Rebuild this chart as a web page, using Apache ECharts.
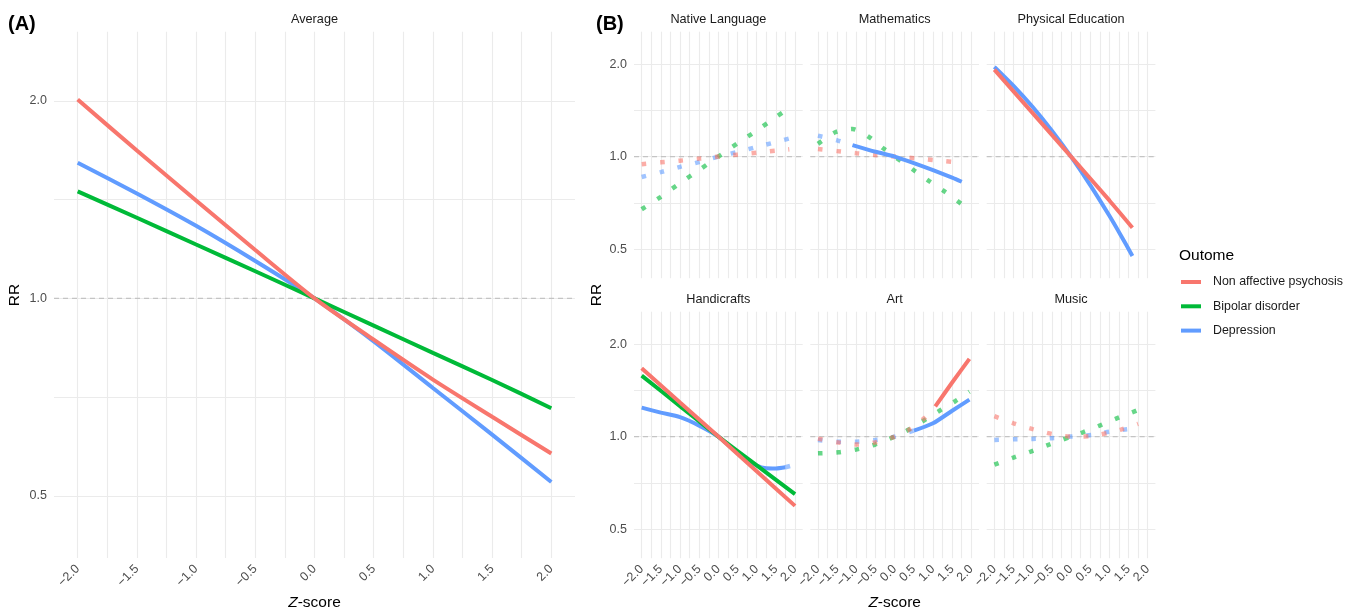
<!DOCTYPE html>
<html>
<head>
<meta charset="utf-8">
<script src="https://cdn.jsdelivr.net/npm/echarts@6/dist/echarts.min.js"></script>
<style>
  html, body { margin: 0; padding: 0; background: #ffffff; }
  #chart { width: 1355px; height: 613px; }
</style>
</head>
<body>
<div id="chart"></div>
<script>
// ---------------- data ----------------
const OUTCOMES = ['Non affective psychosis', 'Bipolar disorder', 'Depression'];
const LEGEND_TITLE = 'Outome';
const X_TICKS = [-2, -1.5, -1, -0.5, 0, 0.5, 1, 1.5, 2];
const X_GRID = [-2, -1.75, -1.5, -1.25, -1, -0.75, -0.5, -0.25, 0, 0.25, 0.5, 0.75, 1, 1.25, 1.5, 1.75, 2];
const X_RANGE = [-2.2, 2.2];
const Y_TICKS = [0.5, 1, 2];
const Y_GRID = [0.5, 0.7071, 1, 1.4142, 2];
const Y_RANGE = [0.402, 2.55];
const REF_RR = 1;

// Panel A: Average
const Z = [-2, -1.5, -1, -0.5, 0, 0.5, 1, 1.5, 2];
const AVG_NAP = [2.01, 1.68, 1.41, 1.185, 1.0, 0.865, 0.752, 0.66, 0.58];
const AVG_BIP = [1.456, 1.327, 1.208, 1.1, 1.0, 0.909, 0.826, 0.751, 0.68];
const AVG_DEP = [1.61, 1.445, 1.29, 1.14, 1.0, 0.86, 0.73, 0.62, 0.525];

// Panel B facets ([z, RR]); SOL = significant (solid), DOT = non-significant (dotted)
const FACET_TITLES = ['Native Language', 'Mathematics', 'Physical Education', 'Handicrafts', 'Art', 'Music'];

const NL_NAP_DOT = [[-2,0.945],[-1.5,0.958],[-1,0.97],[-0.5,0.985],[0,1],[0.5,1.015],[1,1.03],[1.5,1.045],[1.85,1.056]];
const NL_BIP_DOT = [[-2,0.674],[-1.5,0.74],[-1,0.82],[-0.5,0.905],[0,1],[0.5,1.105],[1,1.215],[1.5,1.345],[1.85,1.44]];
const NL_DEP_DOT = [[-2,0.858],[-1.5,0.89],[-1,0.926],[-0.5,0.96],[0,1],[0.5,1.035],[1,1.075],[1.5,1.115],[1.85,1.145]];

const MA_NAP_DOT = [[-2,1.058],[-1.5,1.042],[-1,1.026],[-0.5,1.012],[0,1],[0.5,0.988],[1,0.975],[1.5,0.962],[1.75,0.955]];
const MA_BIP_DOT = [[-2,1.10],[-1.55,1.2],[-1.1,1.23],[-0.66,1.156],[-0.28,1.06],[0,1],[0.5,0.903],[0.89,0.834],[1.29,0.772],[1.75,0.70]];
const MA_DEP_DOT = [[-2,1.17],[-1.5,1.13],[-1.1,1.09]];
const MA_DEP_SOL = [[-1.1,1.09],[-0.5,1.037],[0,1],[0.5,0.953],[1,0.904],[1.5,0.854],[1.75,0.828]];

const PE_NAP_SOL = [[-2,1.92],[-1,1.385],[0,1],[1,0.72],[1.6,0.587]];
const PE_DEP_SOL = [[-2,1.96],[-1.5,1.70],[-1,1.45],[-0.5,1.215],[0,1],[0.5,0.808],[1,0.642],[1.3,0.554],[1.6,0.475]];

const HC_NAP_SOL = [[-2,1.67],[-1,1.292],[0,1],[1,0.771],[2,0.595]];
const HC_BIP_SOL = [[-2,1.58],[-1,1.257],[0,1],[1,0.806],[2,0.65]];
const HC_DEP_SOL = [[-2,1.243],[-1.5,1.197],[-1,1.157],[-0.5,1.086],[0,1],[0.5,0.883],[1,0.805],[1.25,0.789],[1.5,0.788],[1.75,0.795]];
const HC_DEP_DOT = [[1.75,0.795],[2,0.81]];

const AR_NAP_DOT = [[-2,0.985],[-1.5,0.958],[-1,0.942],[-0.5,0.958],[0,1],[0.38,1.054],[0.77,1.147],[1.06,1.254]];
const AR_NAP_SOL = [[1.06,1.254],[1.5,1.5],[1.95,1.79]];
const AR_BIP_DOT = [[-2,0.882],[-1.46,0.889],[-0.98,0.909],[-0.51,0.942],[0,1],[0.38,1.056],[0.77,1.13],[1.17,1.214],[1.59,1.306],[1.95,1.4]];
const AR_DEP_DOT = [[-2,0.975],[-1.5,0.963],[-1,0.963],[-0.5,0.975],[0,1],[0.5,1.046]];
const AR_DEP_SOL = [[0.5,1.046],[1,1.105],[1.5,1.214],[1.95,1.32]];

const MU_NAP_DOT = [[-2,1.165],[-1.5,1.105],[-1,1.058],[-0.5,1.02],[0,1],[0.5,1.003],[1,1.03],[1.3,1.054],[1.75,1.1]];
const MU_BIP_DOT = [[-2,0.81],[-1.5,0.855],[-1.05,0.894],[-0.59,0.94],[0,1],[0.31,1.033],[0.76,1.088],[1.19,1.146],[1.64,1.206],[1.75,1.222]];
const MU_DEP_DOT = [[-2,0.975],[-1.5,0.98],[-1,0.983],[-0.5,0.988],[0,1],[0.6,1.015],[1,1.038],[1.41,1.054],[1.75,1.065]];

// ---------------- styling / layout ----------------
const COLORS = ['#F8766D', '#00BA38', '#619CFF'];
const FONT = "'Liberation Sans', Arial, Helvetica, sans-serif";
const GRID_COLOR = '#EBEBEB';
const TICK_FS = 12.5, STRIP_FS = 12.7, TITLE_FS = 15.5, LEG_FS = 12.4;

// facet composition: [outcomeIndex, data, dotted]
const FACETS = [
  [[2, NL_DEP_DOT, true], [1, NL_BIP_DOT, true], [0, NL_NAP_DOT, true]],
  [[2, MA_DEP_DOT, true], [1, MA_BIP_DOT, true], [0, MA_NAP_DOT, true], [2, MA_DEP_SOL, false]],
  [[2, PE_DEP_SOL, false], [0, PE_NAP_SOL, false]],
  [[2, HC_DEP_SOL, false], [2, HC_DEP_DOT, true], [1, HC_BIP_SOL, false], [0, HC_NAP_SOL, false]],
  [[2, AR_DEP_DOT, true], [1, AR_BIP_DOT, true], [0, AR_NAP_DOT, true], [2, AR_DEP_SOL, false], [0, AR_NAP_SOL, false]],
  [[2, MU_DEP_DOT, true], [1, MU_BIP_DOT, true], [0, MU_NAP_DOT, true]]
];

const B_LEFTS = [634, 810.3, 986.7];
const B_TOPS = [31.7, 311.7];
const B_W = 168.7, B_H = 246.5;
const A_GRID = { left: 54, top: 31.7, width: 521, height: 526.3 };

function fmtX(v) {
  const s = Math.abs(v).toFixed(1);
  return (v < -1e-9 ? '\u2212' : '') + s;
}
function fmtY(v) {
  return Math.pow(2, v).toFixed(1);
}

const grids = [A_GRID];
for (let r = 0; r < 2; r++) {
  for (let c = 0; c < 3; c++) {
    grids.push({ left: B_LEFTS[c], top: B_TOPS[r], width: B_W, height: B_H });
  }
}

const xAxes = [], yAxes = [];
grids.forEach((g, i) => {
  const showX = (i === 0) || (i >= 4);
  const showY = (i === 0) || (i === 1) || (i === 4);
  xAxes.push({
    type: 'value', gridIndex: i, min: X_RANGE[0], max: X_RANGE[1],
    axisLine: { show: false },
    axisTick: { show: false, customValues: X_GRID },
    axisLabel: {
      show: showX, customValues: X_TICKS, rotate: 45, margin: 9,
      color: '#4D4D4D', fontSize: TICK_FS, fontFamily: FONT, formatter: fmtX
    },
    splitLine: { show: true, lineStyle: { color: GRID_COLOR, width: 1.1 } }
  });
  yAxes.push({
    type: 'value', gridIndex: i, min: Math.log2(Y_RANGE[0]), max: Math.log2(Y_RANGE[1]),
    axisLine: { show: false },
    axisTick: { show: false, customValues: Y_GRID.map(Math.log2) },
    axisLabel: {
      show: showY, customValues: Y_TICKS.map(Math.log2), margin: 7,
      color: '#4D4D4D', fontSize: TICK_FS, fontFamily: FONT, formatter: fmtY
    },
    splitLine: { show: true, lineStyle: { color: GRID_COLOR, width: 1.1 } }
  });
});

function toLog(pts) { return pts.map(p => [p[0], Math.log2(p[1])]); }

function lineSeries(gi, oi, pts, dotted) {
  return {
    type: 'line', name: OUTCOMES[oi], xAxisIndex: gi, yAxisIndex: gi,
    data: toLog(pts), symbol: 'none', showSymbol: false,
    smooth: 0.25,
    silent: true, z: dotted ? 2 : 3,
    itemStyle: { color: COLORS[oi] },
    lineStyle: {
      color: COLORS[oi], width: dotted ? 4.5 : 4, cap: 'butt',
      type: dotted ? [4.8, 13.6] : 'solid', opacity: dotted ? 0.6 : 1
    }
  };
}
function refSeries(gi) {
  return {
    type: 'line', xAxisIndex: gi, yAxisIndex: gi, silent: true, z: 1,
    data: [[X_RANGE[0], Math.log2(REF_RR)], [X_RANGE[1], Math.log2(REF_RR)]],
    symbol: 'none', showSymbol: false,
    lineStyle: { color: '#C4C4C4', width: 1.2, type: [5, 4] }
  };
}

const series = [];
// Panel A
series.push(refSeries(0));
[[2, AVG_DEP], [1, AVG_BIP], [0, AVG_NAP]].forEach(([oi, vals]) => {
  series.push(lineSeries(0, oi, Z.map((z, k) => [z, vals[k]]), false));
});
// Panel B
FACETS.forEach((f, fi) => {
  const gi = fi + 1;
  series.push(refSeries(gi));
  f.forEach(([oi, pts, dotted]) => series.push(lineSeries(gi, oi, pts, dotted)));
});

function txt(x, y, text, opts) {
  opts = opts || {};
  return {
    type: 'text', x: x, y: y, rotation: opts.rotation || 0, silent: true,
    style: Object.assign({
      text: text, fill: opts.fill || '#1A1A1A',
      fontSize: opts.fontSize || STRIP_FS, fontFamily: FONT, fontWeight: opts.fontWeight || 'normal',
      align: opts.align || 'center', verticalAlign: 'middle',
      textAlign: opts.align || 'center', textVerticalAlign: 'middle'
    }, opts.extra || {})
  };
}

const italicZ = { rich: { i: { fontStyle: 'italic', fontSize: TITLE_FS, fontFamily: FONT, fill: '#000' } } };

const graphics = [
  txt(8, 24, '(A)', { fontSize: 20, fontWeight: 'bold', fill: '#000', align: 'left' }),
  txt(596, 24, '(B)', { fontSize: 20, fontWeight: 'bold', fill: '#000', align: 'left' }),
  txt(A_GRID.left + A_GRID.width / 2, 19.5, 'Average'),
  txt(15, 295, 'RR', { fontSize: TITLE_FS, fill: '#000', rotation: Math.PI / 2 }),
  txt(597, 295, 'RR', { fontSize: TITLE_FS, fill: '#000', rotation: Math.PI / 2 }),
  txt(A_GRID.left + A_GRID.width / 2, 603, '{i|Z}-score', { fontSize: TITLE_FS, fill: '#000', extra: italicZ }),
  txt(B_LEFTS[1] + B_W / 2, 603, '{i|Z}-score', { fontSize: TITLE_FS, fill: '#000', extra: italicZ }),
  txt(1179, 255.5, LEGEND_TITLE, { fontSize: TITLE_FS, fill: '#000', align: 'left' })
];
FACET_TITLES.forEach((t, k) => {
  const r = Math.floor(k / 3), c = k % 3;
  graphics.push(txt(B_LEFTS[c] + B_W / 2, B_TOPS[r] - 12, t));
});

const option = {
  animation: false,
  backgroundColor: '#ffffff',
  grid: grids,
  xAxis: xAxes,
  yAxis: yAxes,
  legend: {
    data: OUTCOMES, orient: 'vertical', left: 1181, top: 275,
    icon: 'rect', itemWidth: 20, itemHeight: 4, itemGap: 10.3, padding: 0,
    selectedMode: false,
    textStyle: { color: '#1A1A1A', fontSize: LEG_FS, fontFamily: FONT, lineHeight: 14, padding: [0, 0, 0, 7] }
  },
  graphic: graphics,
  series: series
};

const chart = echarts.init(document.getElementById('chart'), null, { renderer: 'canvas' });
chart.setOption(option);
</script>
</body>
</html>
